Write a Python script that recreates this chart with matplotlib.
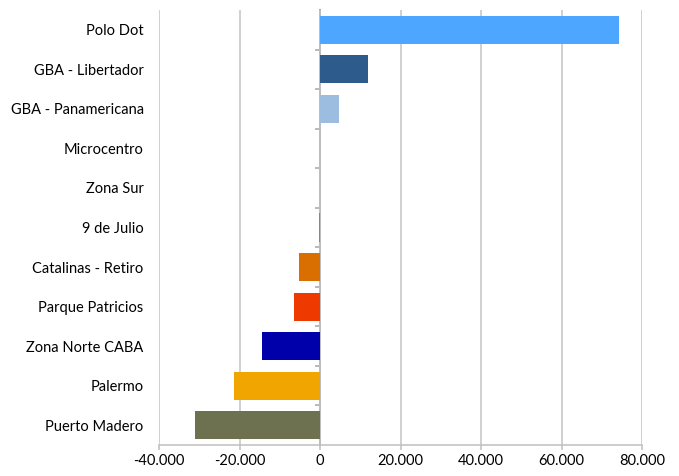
import matplotlib
matplotlib.use("Agg")
import matplotlib.pyplot as plt
from matplotlib.ticker import FuncFormatter, NullFormatter

categories = ["Polo Dot", "GBA - Libertador", "GBA - Panamericana", "Microcentro",
              "Zona Sur", "9 de Julio", "Catalinas - Retiro", "Parque Patricios",
              "Zona Norte CABA", "Palermo", "Puerto Madero"]
values = [74400, 11900, 4700, 0, 0, -300, -5200, -6500, -14400, -21400, -31100]
colors = ["#4DA6FF", "#2D5B8C", "#9DBDE0", "#7F7F7F", "#7F7F7F", "#B47A50",
          "#D86F00", "#EE3A00", "#0000AA", "#F0A500", "#6E7150"]
xticks = [-40000, -20000, 0, 20000, 40000, 60000, 80000]

plt.rcParams['font.family'] = ['Lato', 'DejaVu Sans']

fig = plt.figure(figsize=(6.79, 4.76), dpi=100)
ax = fig.add_axes([159/679, 1-445/476, (642-159)/679, (445-10)/476])

pos = list(range(len(categories)))
ax.barh(pos, values, height=0.71, color=colors, zorder=3)
ax.set_ylim(len(categories)-0.5, -0.5)
ax.set_xlim(xticks[0], xticks[-1])
ax.set_xticks(xticks)
ax.xaxis.set_major_formatter(FuncFormatter(lambda v, p: f"{int(v):,}".replace(",", ".")))
ax.set_yticks(pos)
ax.set_yticklabels(categories)
ax.tick_params(axis='y', length=0, pad=11, labelsize=10.5, colors='black')
ax.tick_params(axis='x', length=3.6, width=1.1, color='#BFBFBF', labelsize=10.5, pad=3)
ax.grid(axis='x', color='#C4C4C4', linewidth=1.1, zorder=0)
for s in ['top', 'right', 'left']:
    ax.spines[s].set_visible(False)
ax.spines['bottom'].set_color('#BFBFBF')
ax.spines['bottom'].set_linewidth(1.1)

# zero axis with category separators
zero_frac = (0 - xticks[0]) / (xticks[-1] - xticks[0])
sec = ax.secondary_yaxis(zero_frac)
sec.spines['left'].set_color('#A6A6A6')
sec.spines['left'].set_linewidth(1.4)
sec.spines['left'].set_zorder(4)
sec.set_yticks([p + 0.5 for p in pos[:-1]])
sec.yaxis.set_major_formatter(NullFormatter())
sec.tick_params(axis='y', length=3.6, width=1.1, color='#A6A6A6', direction='out')

fig.savefig("out.png", dpi=100)
